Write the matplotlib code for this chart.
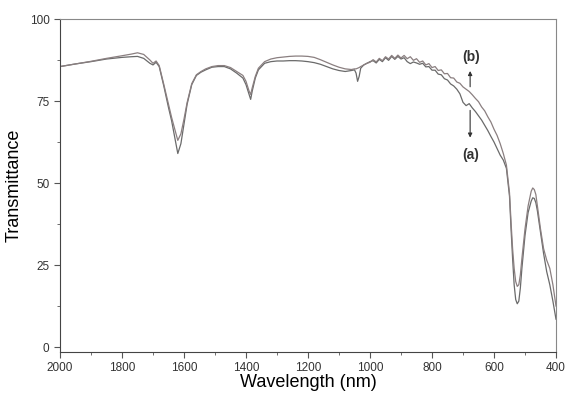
import matplotlib.pyplot as plt
from matplotlib.ticker import MultipleLocator

plt.rcParams['font.family'] = ['Liberation Sans', 'DejaVu Sans']

# wavelength grid (nm), shared by both spectra
wl = [2000, 1950, 1900, 1850, 1800, 1770, 1750, 1730, 1710, 1700, 1690, 1680,
      1665, 1650, 1640, 1630, 1620, 1610, 1600, 1590, 1575, 1560, 1545, 1530,
      1510, 1490, 1470, 1450, 1430, 1410, 1400, 1390, 1385, 1380, 1370, 1360,
      1340, 1320, 1300, 1280, 1260, 1240, 1220, 1200, 1180, 1160, 1140, 1120,
      1100, 1080, 1060, 1050, 1045, 1040, 1035, 1030, 1020, 1010, 1000,
      990, 980, 970, 960, 950, 940, 930, 920, 910, 900, 890, 880, 870, 860,
      850, 840, 830, 820, 810, 800, 790, 780, 770, 760, 750, 740, 730, 720,
      710, 700, 690, 680, 670, 660, 650, 640, 630, 620, 610, 600,
      590, 580, 570, 560, 550, 545, 540, 535, 530, 525, 520, 515, 510, 500,
      490, 480, 475, 470, 465, 460, 450, 440, 430, 420, 410, 400]

trans_a = [85.5, 86.3, 87.0, 87.8, 88.3, 88.5, 88.6, 88.0, 86.5, 86.0, 86.8, 85.5,
           79.5, 73.0, 69.0, 64.0, 59.0, 62.0, 68.0, 74.0, 80.0, 82.8, 83.8, 84.5,
           85.3, 85.5, 85.5, 84.8, 83.5, 82.0, 80.0, 77.0, 75.5, 78.0, 82.0, 84.5,
           86.5, 87.0, 87.2, 87.2, 87.3, 87.3, 87.2, 87.0, 86.7, 86.2, 85.5, 84.8,
           84.3, 84.0, 84.3, 84.5, 83.5, 81.0, 82.5, 85.0, 86.0, 86.5, 87.0,
           87.3, 86.6, 87.7, 87.0, 88.2, 87.4, 88.6, 87.7, 88.6, 87.8, 88.2, 87.0,
           86.4, 86.9, 86.6, 86.2, 86.5, 85.4, 85.5, 84.4, 84.4, 83.2, 83.0, 81.8,
           81.4, 80.2, 79.6, 78.6, 77.2, 74.6, 73.6, 74.2, 72.9, 71.8, 70.5, 69.2,
           67.6, 66.0, 64.2, 62.5,
           60.5, 58.5, 57.0, 54.5, 46.0, 36.0, 27.0, 19.0, 14.5, 13.2, 14.0, 18.0,
           24.0, 34.0, 41.0, 44.5, 45.5, 45.3, 44.0, 41.5, 35.0, 28.5, 23.0, 19.0,
           14.0, 8.5]

trans_b = [85.5, 86.3, 87.1, 88.0, 88.8, 89.3, 89.7, 89.2, 87.5, 86.5, 87.2, 85.8,
           80.0, 74.0, 70.0, 66.5, 63.0, 65.0, 69.5, 74.5, 80.3, 83.0, 84.0, 84.8,
           85.5, 85.8, 85.8, 85.2, 84.0, 82.8, 81.0, 78.0, 77.0, 79.0, 82.5, 85.0,
           87.0, 87.8, 88.2, 88.4, 88.6, 88.7, 88.7, 88.6, 88.3, 87.6, 86.8, 86.0,
           85.3, 84.8, 84.6, 84.8, 84.8, 85.0, 85.2, 85.5, 86.0, 86.5, 86.8,
           87.6, 86.9, 88.0, 87.3, 88.5, 87.8, 88.9, 88.0, 89.0, 88.1, 88.9, 87.9,
           88.5, 87.4, 87.9, 86.8, 87.2, 86.0, 86.4, 85.2, 85.5, 84.3, 84.5, 83.3,
           83.4, 82.1, 82.0, 80.8, 80.4, 79.3, 78.6, 77.9, 76.9, 75.8, 74.8, 73.2,
           72.0, 70.2, 68.6, 66.4,
           64.5, 62.0, 59.0, 55.5, 47.0, 38.0, 30.0, 24.0, 20.0, 18.5, 19.0, 22.0,
           27.0, 36.0, 43.0, 47.5, 48.5, 48.0, 46.5, 43.0, 36.0, 30.0, 26.5, 24.0,
           19.0, 12.5]

fig = plt.figure(figsize=(5.67, 3.94), dpi=100)
ax = fig.add_axes([60 / 567, 42 / 394, 496 / 567, 333 / 394])

ax.plot(wl, trans_a, color='#6a6a6a', lw=0.9)
ax.plot(wl, trans_b, color='#8a7f80', lw=0.9)

ax.set_xlim(2000, 400)
ax.set_ylim(-1.5, 100)
ax.xaxis.set_major_locator(MultipleLocator(200))
ax.xaxis.set_minor_locator(MultipleLocator(100))
ax.yaxis.set_major_locator(MultipleLocator(25))
ax.yaxis.set_minor_locator(MultipleLocator(12.5))
ax.tick_params(which='both', direction='out', color='#555555', labelsize=8.5,
               labelcolor='#333333', top=False, right=False)
ax.tick_params(which='major', length=4)
ax.tick_params(which='minor', length=2.5)
for s in ax.spines.values():
    s.set_color('#888888')
ax.spines['left'].set_color('#444444')
ax.spines['bottom'].set_color('#444444')

ax.set_xlabel('Wavelength (nm)', fontsize=13, labelpad=0)
ax.set_ylabel('Transmittance', fontsize=13, labelpad=5)

# labels with arrows
ax.annotate('', xy=(677, 85), xytext=(677, 78.5),
            arrowprops=dict(arrowstyle='-|>', color='#333333', lw=0.8, mutation_scale=6))
ax.annotate('', xy=(677, 63), xytext=(677, 73),
            arrowprops=dict(arrowstyle='-|>', color='#333333', lw=0.8, mutation_scale=6))
ax.text(675, 88.5, '(b)', fontsize=10, fontweight='bold', ha='center', va='center', color='#333333')
ax.text(675, 58.5, '(a)', fontsize=10, fontweight='bold', ha='center', va='center', color='#333333')

fig.savefig('out.png', dpi=100)
